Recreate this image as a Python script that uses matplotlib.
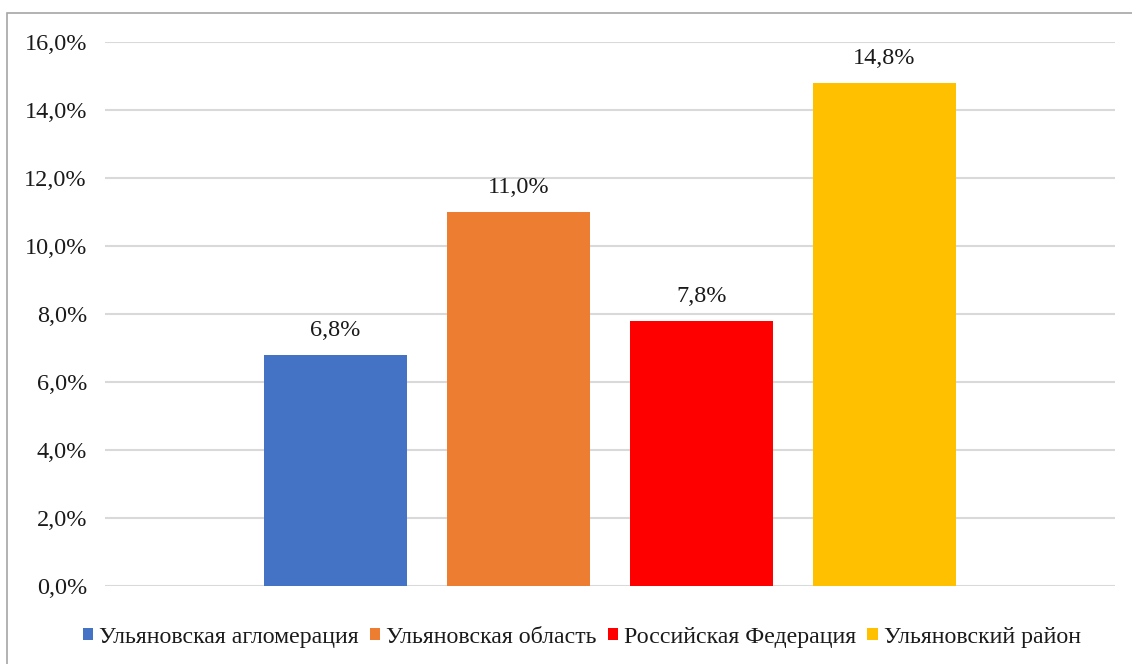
import matplotlib.pyplot as plt
from matplotlib.patches import Rectangle
from matplotlib.ticker import FuncFormatter

labels = ['Ульяновская агломерация', 'Ульяновская область',
          'Российская Федерация', 'Ульяновский район']
values = [6.8, 11.0, 7.8, 14.8]
colors = ['#4472c4', '#ed7d31', '#ff0000', '#ffc000']
yticks = [0, 2, 4, 6, 8, 10, 12, 14, 16]

plt.rcParams['font.family'] = ['Liberation Serif', 'DejaVu Serif']

fig = plt.figure(figsize=(11.32, 6.64), dpi=100)
fig.patches.append(Rectangle((7 / 1132, -0.01), 1.0, 1 - 13 / 664 + 0.01,
                             transform=fig.transFigure, fill=False,
                             edgecolor='#a6a6a6', linewidth=1.2))
ax = fig.add_axes([105 / 1132, 1 - 586 / 664, 1010 / 1132, 544 / 664])

x = list(range(len(values)))
bars = ax.bar(x, values, width=0.78, color=colors, label=labels, zorder=3)
for xi, v in zip(x, values):
    ax.annotate(f'{v:.1f}%'.replace('.', ','), (xi, v), xytext=(0, 10),
                textcoords='offset points', ha='center', va='bottom',
                fontsize=17.5, color='#1a1a1a')

ax.set_xlim(-1.26, 4.26)
ax.set_ylim(0, 16)
ax.set_yticks(yticks)
ax.yaxis.set_major_formatter(FuncFormatter(lambda v, p: f'{v:.1f}%'.replace('.', ',')))
ax.tick_params(axis='y', length=0, labelsize=17.5, labelcolor='#1a1a1a', pad=13)
ax.set_xticks([])
ax.grid(axis='y', color='#d9d9d9', linewidth=1.5, zorder=0)
for s in ax.spines.values():
    s.set_visible(False)

ax.legend(loc='upper center', bbox_to_anchor=(0.472, -0.035), ncol=4, frameon=False,
          fontsize=17.2, handlelength=0.45, handleheight=0.45, handletextpad=0.25,
          columnspacing=0.45, labelcolor='#1a1a1a')

fig.savefig('out.png', dpi=100)
